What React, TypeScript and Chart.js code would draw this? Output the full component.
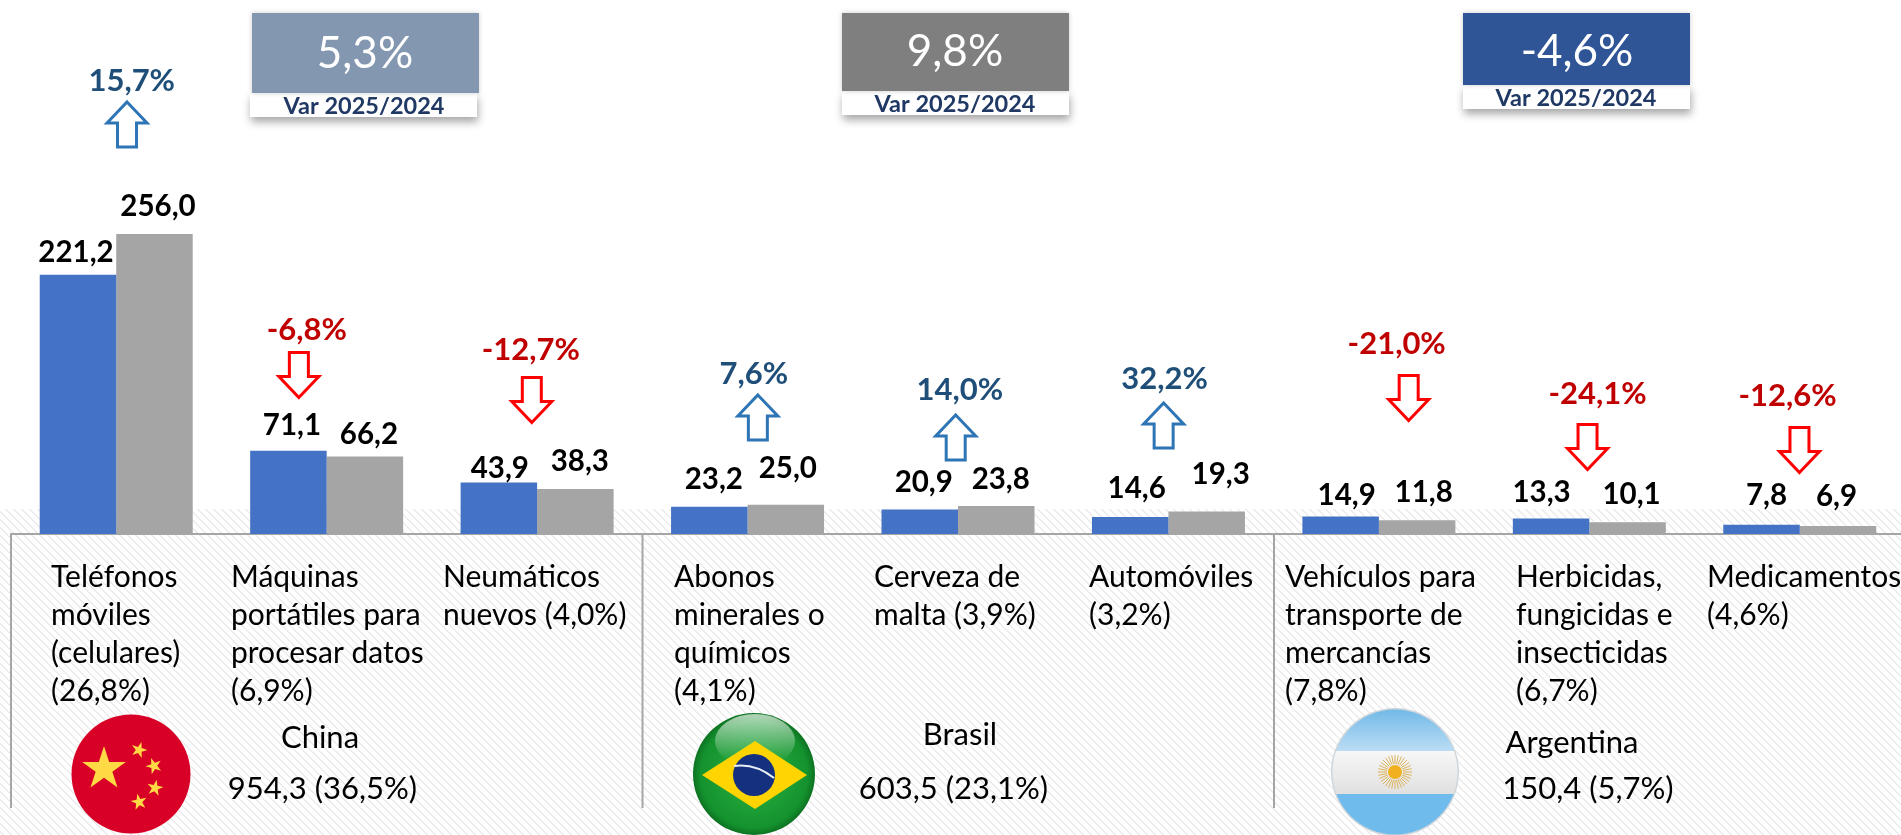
import React, { useEffect, useRef } from "react";
import { Chart, registerables } from "chart.js";

Chart.register(...registerables);

const categories = [
  ["Teléfonos", "móviles", "(celulares)", "(26,8%)"],
  ["Máquinas", "portátiles para", "procesar datos", "(6,9%)"],
  ["Neumáticos", "nuevos (4,0%)"],
  ["Abonos", "minerales o", "químicos", "(4,1%)"],
  ["Cerveza de", "malta (3,9%)"],
  ["Automóviles", "(3,2%)"],
  ["Vehículos para", "transporte de", "mercancías", "(7,8%)"],
  ["Herbicidas,", "fungicidas e", "insecticidas", "(6,7%)"],
  ["Medicamentos", "(4,6%)"],
];
const values2024 = [221.2, 71.1, 43.9, 23.2, 20.9, 14.6, 14.9, 13.3, 7.8];
const values2025 = [256.0, 66.2, 38.3, 25.0, 23.8, 19.3, 11.8, 10.1, 6.9];
const variation = [15.7, -6.8, -12.7, 7.6, 14.0, 32.2, -21.0, -24.1, -12.6];

const countryNames = ["China", "Brasil", "Argentina"];
const countryTotals = ["954,3 (36,5%)", "603,5 (23,1%)", "150,4 (5,7%)"];
const countryVariation = ["5,3%", "9,8%", "-4,6%"];
const variationCaption = "Var 2025/2024";

// layout only, separate from the data
const FONT = "Lato";
const BASE_Y = 534;
const labelShift2024 = [[-2, -22], [3.5, -25], [1, -14], [4.5, -27], [4, -27], [6.5, -28], [6, -21], [-9.5, -26], [5, -29]];
const labelShift2025 = [[3.5, -27], [4, -22], [4.5, -28], [2, -36], [4.5, -27], [14, -37], [6.5, -28], [4, -28], [-1.5, -29]];
const varTextDx = [15.5, -19.8, -6.3, 6.3, 1.8, -3.8, 17.8, 8.3, -12.3];
const varTextY = [81, 330, 350, 373.5, 390, 379, 344, 394, 396];
const arrowDx = [10.8, -27.8, -5.3, 10.3, -2.3, -4.8, 29.8, -1.8, -0.3];
const arrowTop = [102, 352.5, 377.5, 395, 415, 403, 375.5, 424.5, 427.5];
const tickLeft = [51, 231, 443, 674, 874, 1089, 1285, 1516, 1707];
const boxes = [
  { x: 252, w: 227, y: 13, h: 80, sx: 250, sh: 24, color: "#8497B0", cx: 365, cy: 54, sub: 364 },
  { x: 842, w: 227, y: 13, h: 78, sx: 842, sh: 24, color: "#7F7F7F", cx: 955, cy: 52, sub: 955 },
  { x: 1463, w: 227, y: 13, h: 72, sx: 1463, sh: 24, color: "#2F5597", cx: 1577, cy: 52, sub: 1576 },
];
const countryPos = [
  { cx: 320, cy: 738, tx: 322.5, ty: 789 },
  { cx: 960, cy: 735, tx: 953.5, ty: 789 },
  { cx: 1572, cy: 743, tx: 1588, ty: 789 },
];
const dividers = [11, 642.5, 1274];

function star(ctx: CanvasRenderingContext2D, x: number, y: number, r: number, rot: number) {
  ctx.beginPath();
  for (let i = 0; i < 10; i++) {
    const rad = i % 2 ? r * 0.382 : r;
    const a = -Math.PI / 2 + rot + (i * Math.PI) / 5;
    ctx.lineTo(x + Math.cos(a) * rad, y + Math.sin(a) * rad);
  }
  ctx.closePath();
  ctx.fill();
}

function drawFlags(ctx: CanvasRenderingContext2D) {
  // China
  ctx.save();
  ctx.beginPath();
  ctx.arc(131, 774, 59.5, 0, Math.PI * 2);
  ctx.fillStyle = "#D80027";
  ctx.fill();
  ctx.fillStyle = "#FFDA44";
  star(ctx, 104, 769, 23, 0);
  star(ctx, 139, 750, 8.5, 0.3);
  star(ctx, 154, 766, 8.5, 0.9);
  star(ctx, 155, 788, 8.5, 0.2);
  star(ctx, 139, 802, 8.5, -0.2);
  ctx.restore();

  // Brazil
  ctx.save();
  const g = ctx.createRadialGradient(754, 776, 20, 754, 774, 62);
  g.addColorStop(0, "#22A63A");
  g.addColorStop(0.8, "#14922E");
  g.addColorStop(1, "#0C6E20");
  ctx.beginPath();
  ctx.arc(754, 774, 61, 0, Math.PI * 2);
  ctx.fillStyle = g;
  ctx.fill();
  const s = ctx.createLinearGradient(754, 716, 754, 760);
  s.addColorStop(0, "rgba(255,255,255,0.65)");
  s.addColorStop(1, "rgba(255,255,255,0.02)");
  ctx.beginPath();
  ctx.ellipse(755, 741, 40, 27, 0, 0, Math.PI * 2);
  ctx.fillStyle = s;
  ctx.fill();
  ctx.beginPath();
  ctx.moveTo(702, 775);
  ctx.lineTo(755, 741);
  ctx.lineTo(807, 775);
  ctx.lineTo(755, 809);
  ctx.closePath();
  ctx.fillStyle = "#FFD400";
  ctx.fill();
  ctx.beginPath();
  ctx.arc(754, 775, 21, 0, Math.PI * 2);
  ctx.fillStyle = "#14307F";
  ctx.fill();
  ctx.beginPath();
  ctx.moveTo(734, 766);
  ctx.quadraticCurveTo(755, 763, 774, 778);
  ctx.strokeStyle = "#E8EEF5";
  ctx.lineWidth = 2;
  ctx.stroke();
  ctx.restore();

  // Argentina
  ctx.save();
  ctx.beginPath();
  ctx.arc(1395, 772, 64, 0, Math.PI * 2);
  ctx.fillStyle = "#CFD6DC";
  ctx.fill();
  ctx.beginPath();
  ctx.arc(1395, 772, 62.5, 0, Math.PI * 2);
  ctx.clip();
  const b = ctx.createLinearGradient(0, 708, 0, 751);
  b.addColorStop(0, "#6FB8E6");
  b.addColorStop(1, "#BBDDF5");
  ctx.fillStyle = b;
  ctx.fillRect(1330, 708, 130, 43);
  const w = ctx.createLinearGradient(0, 751, 0, 794);
  w.addColorStop(0, "#F7F7F7");
  w.addColorStop(1, "#E0E0E0");
  ctx.fillStyle = w;
  ctx.fillRect(1330, 751, 130, 43);
  ctx.fillStyle = "#6FBCEC";
  ctx.fillRect(1330, 794, 130, 44);
  ctx.strokeStyle = "#DDB45A";
  ctx.lineWidth = 1;
  for (let i = 0; i < 32; i++) {
    const a = (i * Math.PI) / 16;
    ctx.beginPath();
    ctx.moveTo(1395 + Math.cos(a) * 8, 772 + Math.sin(a) * 8);
    ctx.lineTo(1395 + Math.cos(a) * 17, 772 + Math.sin(a) * 17);
    ctx.stroke();
  }
  ctx.beginPath();
  ctx.arc(1395, 772, 7, 0, Math.PI * 2);
  ctx.fillStyle = "#F0B020";
  ctx.fill();
  ctx.restore();
}

function arrow(ctx: CanvasRenderingContext2D, cx: number, top: number, up: boolean, color: string) {
  const hw = 20, sw = 9.5, H = 45, head = 21;
  ctx.beginPath();
  if (up) {
    ctx.moveTo(cx, top);
    ctx.lineTo(cx + hw, top + head);
    ctx.lineTo(cx + sw, top + head);
    ctx.lineTo(cx + sw, top + H);
    ctx.lineTo(cx - sw, top + H);
    ctx.lineTo(cx - sw, top + head);
    ctx.lineTo(cx - hw, top + head);
  } else {
    ctx.moveTo(cx, top + H);
    ctx.lineTo(cx + hw, top + H - head);
    ctx.lineTo(cx + sw, top + H - head);
    ctx.lineTo(cx + sw, top);
    ctx.lineTo(cx - sw, top);
    ctx.lineTo(cx - sw, top + H - head);
    ctx.lineTo(cx - hw, top + H - head);
  }
  ctx.closePath();
  ctx.fillStyle = "#FFFFFF";
  ctx.fill();
  ctx.strokeStyle = color;
  ctx.lineWidth = 3;
  ctx.stroke();
}

const fmt = (v: number) => v.toFixed(1).replace(".", ",");

const backdropPlugin = {
  id: "backdrop",
  beforeDraw(chart: any) {
    const { ctx, width, height } = chart;
    const t = document.createElement("canvas");
    t.width = 8;
    t.height = 8;
    const c = t.getContext("2d")!;
    c.fillStyle = "#ECECEC";
    for (let i = 0; i < 8; i++) {
      c.fillRect(i, i, 1, 1);
      c.fillRect((i + 1) % 8, i, 1, 1);
    }
    ctx.save();
    ctx.fillStyle = "#FFFFFF";
    ctx.fillRect(0, 0, width, height);
    ctx.fillStyle = ctx.createPattern(t, "repeat")!;
    ctx.fillRect(0, 509, width, height - 509);
    ctx.strokeStyle = "#A6A6A6";
    ctx.lineWidth = 2;
    for (const x of dividers) {
      ctx.beginPath();
      ctx.moveTo(x, BASE_Y);
      ctx.lineTo(x, 808);
      ctx.stroke();
    }
    ctx.restore();

    // tick labels are left-aligned boxes in the original, each with its own left edge
    const xs = chart.scales.x;
    const items = xs.getLabelItems(chart.chartArea);
    items.forEach((it: any, i: number) => {
      if (!it.__moved) {
        it.options.translation[0] = tickLeft[i];
        it.__moved = true;
      }
    });
  },
};

const overlayPlugin = {
  id: "overlay",
  afterDatasetsDraw(chart: any) {
    const { ctx } = chart;
    const xs = chart.scales.x;
    ctx.save();
    ctx.textAlign = "center";
    ctx.textBaseline = "middle";

    // value labels
    ctx.font = `bold 29.5px ${FONT}`;
    ctx.fillStyle = "#000000";
    [values2024, values2025].forEach((vals, d) => {
      const shift = d === 0 ? labelShift2024 : labelShift2025;
      chart.getDatasetMeta(d).data.forEach((bar: any, i: number) => {
        ctx.fillText(fmt(vals[i]), bar.x + shift[i][0], bar.y + shift[i][1]);
      });
    });

    // variation arrows and labels
    variation.forEach((v, i) => {
      const c = xs.getPixelForValue(i);
      const up = v >= 0;
      arrow(ctx, c + arrowDx[i], arrowTop[i], up, up ? "#2E75B6" : "#FF0000");
      ctx.font = `bold 31px ${FONT}`;
      ctx.fillStyle = up ? "#1F4E79" : "#C00000";
      ctx.fillText(fmt(v) + "%", c + varTextDx[i], varTextY[i]);
    });

    // summary boxes
    boxes.forEach((b, i) => {
      ctx.save();
      ctx.shadowColor = "rgba(0,0,0,0.35)";
      ctx.shadowBlur = 8;
      ctx.shadowOffsetY = 5;
      ctx.shadowOffsetX = 1;
      ctx.fillStyle = "#FFFFFF";
      ctx.fillRect(b.sx, b.y + b.h, b.w, b.sh);
      ctx.restore();
      ctx.save();
      ctx.shadowColor = "rgba(0,0,0,0.2)";
      ctx.shadowBlur = 5;
      ctx.fillStyle = b.color;
      ctx.fillRect(b.x, b.y, b.w, b.h);
      ctx.restore();
      ctx.fillStyle = "#FFFFFF";
      ctx.font = `44px ${FONT}`;
      ctx.fillText(countryVariation[i], b.cx, b.cy);
      ctx.fillStyle = "#1F3864";
      ctx.font = `bold 23.5px ${FONT}`;
      ctx.fillText(variationCaption, b.sub, b.y + b.h + b.sh / 2 + 1);
    });

    drawFlags(ctx);

    // country summaries
    ctx.fillStyle = "#000000";
    ctx.font = `31px ${FONT}`;
    countryNames.forEach((n, i) => {
      ctx.fillText(n, countryPos[i].cx, countryPos[i].cy);
      ctx.fillText(countryTotals[i], countryPos[i].tx, countryPos[i].ty);
    });
    ctx.restore();
  },
};

export default function App() {
  const ref = useRef<HTMLCanvasElement>(null);
  useEffect(() => {
    const chart = new Chart(ref.current!, {
      type: "bar",
      data: {
        labels: categories,
        datasets: [
          { label: "2024", data: values2024, backgroundColor: "#4472C4", categoryPercentage: 0.727, barPercentage: 1 },
          { label: "2025", data: values2025, backgroundColor: "#A5A5A5", categoryPercentage: 0.727, barPercentage: 1 },
        ],
      },
      options: {
        animation: false,
        responsive: false,
        layout: { autoPadding: false, padding: { left: 11, right: 0, top: 0, bottom: 0 } },
        plugins: { legend: { display: false }, tooltip: { enabled: false } },
        scales: {
          y: { display: false, min: 0, max: BASE_Y / 1.172 },
          x: {
            border: { color: "#A6A6A6", width: 2 },
            grid: { display: false, drawTicks: false },
            afterFit: (s: any) => {
              s.height = 835 - BASE_Y;
              s.paddingLeft = 0;
              s.paddingRight = 0;
            },
            ticks: {
              autoSkip: false,
              maxRotation: 0,
              minRotation: 0,
              align: "start",
              crossAlign: "near",
              padding: 24,
              color: "#000000",
              font: { family: FONT, size: 30, lineHeight: "38px" },
            },
          },
        },
      },
      plugins: [backdropPlugin, overlayPlugin],
    } as any);
    return () => chart.destroy();
  }, []);
  return (
    <div style={{ position: "fixed", left: 0, top: 0, width: 1901, height: 835, overflow: "hidden" }}>
      <canvas ref={ref} width={1905} height={835} style={{ display: "block" }} />
    </div>
  );
}
